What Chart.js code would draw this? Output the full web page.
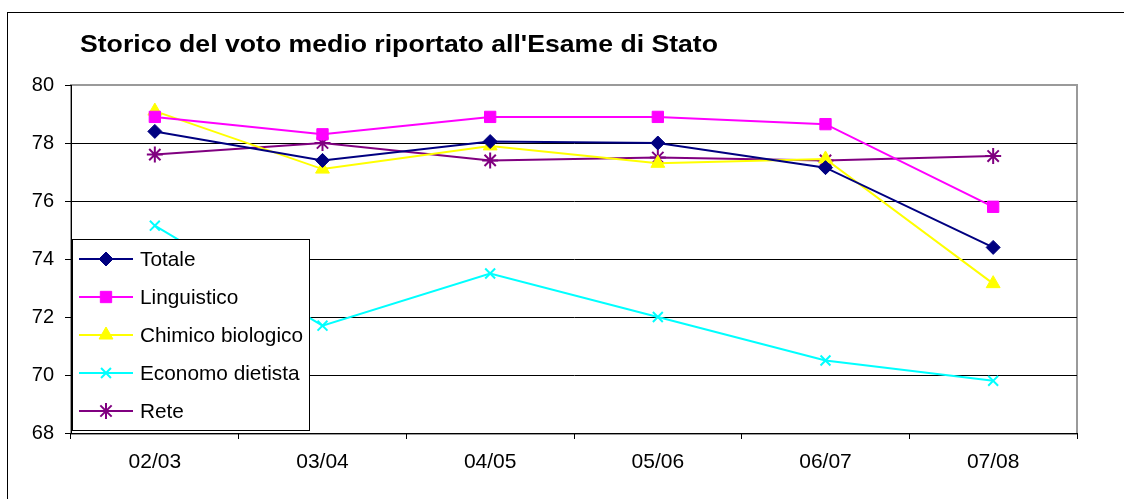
<!DOCTYPE html>
<html>
<head>
<meta charset="utf-8">
<script src="https://cdn.jsdelivr.net/npm/chart.js@4/dist/chart.umd.min.js"></script>
<style>
  html, body { margin: 0; padding: 0; background: #fff; overflow: hidden; }
  #wrap { width: 1124px; height: 499px; position: relative; }
</style>
</head>
<body>
<div id="wrap"><canvas id="chart" width="1124" height="499"></canvas></div>
<script>
const categories = ['02/03', '03/04', '04/05', '05/06', '06/07', '07/08'];
const totale = [78.4, 77.4, 78.05, 78.0, 77.15, 74.4];
const linguistico = [78.9, 78.3, 78.9, 78.9, 78.65, 75.8];
const chimicoBiologico = [79.1, 77.1, 77.9, 77.3, 77.45, 73.15];
const economoDietista = [75.15, 71.7, 73.5, 72.0, 70.5, 69.8];
const rete = [77.6, 78.0, 77.4, 77.5, 77.4, 77.55];
const yTicks = [68, 70, 72, 74, 76, 78, 80];
const chartTitle = "Storico del voto medio riportato all'Esame di Stato";

const FONT = "'Liberation Sans', Arial, sans-serif";
Chart.defaults.font.family = FONT;
Chart.defaults.color = '#000';

function series(label, data, color, style, radius) {
    return {
        label: label,
        data: data,
        borderColor: color,
        backgroundColor: color,
        borderWidth: 2,
        pointStyle: style,
        pointRadius: radius,
        pointBorderWidth: style === 'crossRot' || style === 'star' ? 2 : 1,
        tension: 0
    };
}

// outer frame, plot border, title
const framePlugin = {
    id: 'frame',
    beforeDraw(chart) {
        const ctx = chart.ctx;
        const a = chart.chartArea;
        ctx.save();
        ctx.strokeStyle = '#000';
        ctx.lineWidth = 1;
        ctx.strokeRect(7.5, 12.5, 2000, 2000);
        ctx.strokeStyle = '#9a9a9a';
        ctx.lineWidth = 2;
        ctx.strokeRect(a.left, a.top, a.right - a.left, a.bottom - a.top + 1);

        // title is a bit wider than plain Arial in the original
        ctx.fillStyle = '#000';
        ctx.font = 'bold 24px ' + FONT;
        ctx.textBaseline = 'alphabetic';
        const w = ctx.measureText(chartTitle).width;
        ctx.translate(80, 52);
        ctx.scale(638 / w, 1);
        ctx.fillText(chartTitle, 0, 0);
        ctx.restore();
    }
};

// legend box drawn inside the plot, like the original
const legendPlugin = {
    id: 'boxLegend',
    afterDraw(chart) {
        const ctx = chart.ctx;
        const box = {x: 72, y: 239, w: 237, h: 191};
        ctx.save();
        ctx.fillStyle = '#fff';
        ctx.fillRect(box.x, box.y, box.w, box.h);
        ctx.strokeStyle = '#000';
        ctx.lineWidth = 1;
        ctx.strokeRect(box.x + 0.5, box.y + 0.5, box.w, box.h);
        ctx.font = '20.8px ' + FONT;
        ctx.textBaseline = 'middle';
        chart.data.datasets.forEach((ds, i) => {
            const y = 259 + i * 38;
            ctx.strokeStyle = ds.borderColor;
            ctx.lineWidth = 2;
            ctx.beginPath();
            ctx.moveTo(79, y);
            ctx.lineTo(133, y);
            ctx.stroke();
            ctx.fillStyle = ds.backgroundColor;
            ctx.lineWidth = ds.pointBorderWidth;
            Chart.helpers.drawPoint(ctx, {
                pointStyle: ds.pointStyle,
                radius: ds.pointRadius,
                rotation: 0,
                borderWidth: ds.pointBorderWidth
            }, 106, y);
            ctx.fillStyle = '#000';
            ctx.fillText(ds.label, 140, y + 1);
        });
        ctx.restore();
    }
};

new Chart(document.getElementById('chart'), {
    type: 'line',
    data: {
        labels: categories,
        datasets: [
            series('Totale', totale, '#000080', 'rectRot', 7),
            series('Linguistico', linguistico, '#ff00ff', 'rect', 8),
            series('Chimico biologico', chimicoBiologico, '#ffff00', 'triangle', 8),
            series('Economo dietista', economoDietista, '#00ffff', 'crossRot', 7),
            series('Rete', rete, '#800080', 'star', 8)
        ]
    },
    options: {
        responsive: false,
        animation: false,
        devicePixelRatio: 1,
        layout: {padding: {top: 85, right: 47, left: 0, bottom: 0}},
        plugins: {
            legend: {display: false},
            title: {display: false},
            tooltip: {enabled: false}
        },
        scales: {
            x: {
                offset: true,
                afterFit(scale) { scale.height = 66; },
                grid: {
                    offset: true,
                    drawOnChartArea: false,
                    drawTicks: true,
                    tickLength: 6,
                    color: '#000'
                },
                border: {display: true, color: '#000', width: 1},
                ticks: {font: {size: 21}, padding: 11, maxRotation: 0}
            },
            y: {
                min: 68,
                max: 80,
                afterFit(scale) { scale.width = 71; },
                afterBuildTicks(scale) { scale.ticks = yTicks.map(v => ({value: v})); },
                grid: {
                    color: ctx => ctx.tick && ctx.tick.value === 80 ? 'rgba(0,0,0,0)' : '#000',
                    tickColor: '#000',
                    tickLength: 6,
                    lineWidth: 1
                },
                border: {display: true, color: '#000', width: 1},
                ticks: {font: {size: 20}, padding: 11}
            }
        }
    },
    plugins: [framePlugin, legendPlugin]
});
</script>
</body>
</html>
